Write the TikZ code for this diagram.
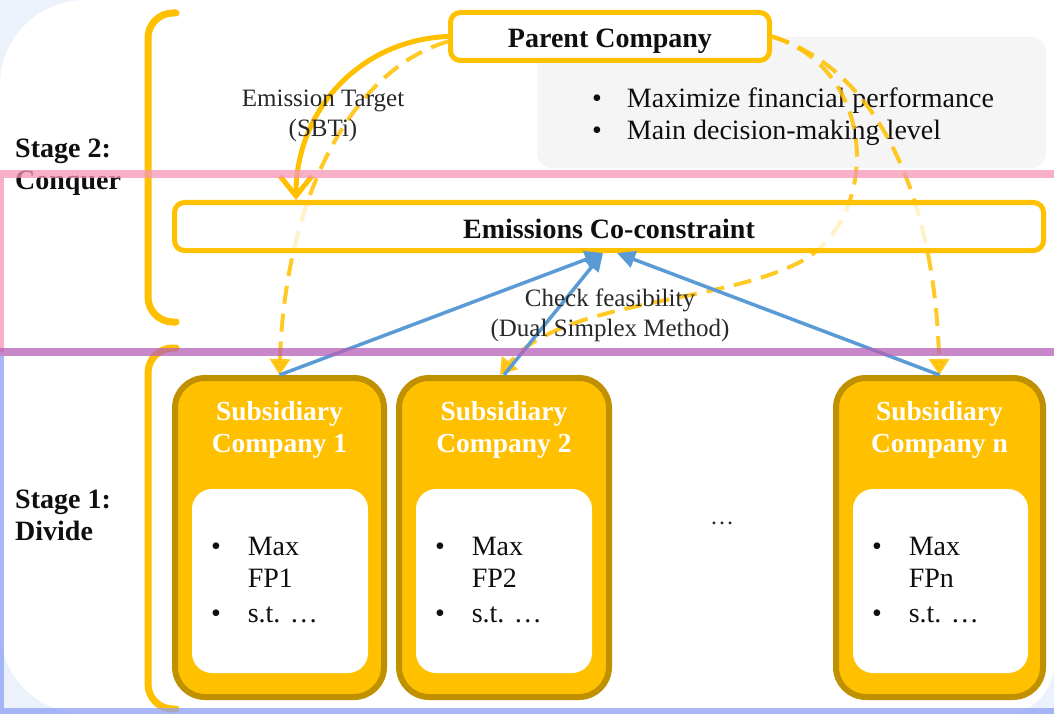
\documentclass[tikz,border=0pt]{standalone}
\usepackage{fontspec}
\setmainfont{Liberation Serif}
\usetikzlibrary{arrows.meta}
\definecolor{yel}{RGB}{255,192,0}
\definecolor{yeldark}{RGB}{191,144,0}
\definecolor{bl}{RGB}{91,155,213}
\definecolor{pinkb}{RGB}{246,150,182}
\definecolor{purpb}{RGB}{182,96,182}
\definecolor{blueb}{RGB}{139,160,246}
\definecolor{graybox}{RGB}{245,245,245}
\definecolor{bgtint}{RGB}{236,242,252}
\definecolor{txt}{RGB}{15,15,15}
\definecolor{lbl}{RGB}{40,40,40}
\begin{document}
\begin{tikzpicture}[x=1pt,y=-1pt,
  yelbox/.style={draw=yel, line width=5pt, rounded corners=10pt, fill=white, inner sep=0pt,
    text=txt, font=\fontsize{28}{32}\selectfont\bfseries, text height=23pt, text depth=0pt},
  subbox/.style={draw=yeldark, fill=yel, line width=6pt, rounded corners=30pt,
    minimum width=209pt, minimum height=319pt, inner sep=0pt},
  innerbox/.style={fill=white, rounded corners=20pt, minimum width=176pt, minimum height=184pt, inner sep=0pt},
  subtitle/.style={text=white, align=center, font=\fontsize{27.5}{32}\selectfont\bfseries, inner sep=0pt},
  bodytext/.style={font=\fontsize{28}{32}\selectfont, inner sep=0pt, anchor=west, text=txt},
  lab/.style={font=\fontsize{25}{30}\selectfont, align=center, text=lbl, inner sep=0pt},
  stagelab/.style={font=\fontsize{28}{32}\selectfont\bfseries, align=left, anchor=west, inner sep=0pt, text=txt},
  dasharrow/.style={draw=yel, line width=4pt, dash pattern=on 18pt off 10pt,
    -{Triangle[length=16pt,width=20pt]}, opacity=0.85},
  bluearrow/.style={draw=bl, line width=3.5pt, -{Triangle[length=18pt,width=17pt]}},
  bracket/.style={draw=yel, line width=7pt, rounded corners=25pt, line cap=round},
  band/.style={line width=8pt, opacity=0.75}
]
\useasboundingbox (0,0) rectangle (1054,714);
\clip (0,0) rectangle (1054,714);
% background
\fill[bgtint] (0,0) rectangle (1054,714);
\fill[white] (527,0) [rounded corners=85pt] -- (0,0) -- (0,714) -- (1054,714) [sharp corners] -- (1054,0) -- cycle;
\fill[white] (1054,400) [rounded corners=50pt] -- (1054,714) -- (700,714) [sharp corners] -- (700,400) -- cycle;
% gray box
\fill[graybox, rounded corners=15pt] (537,37) rectangle (1046,168);
% parent
\node[yelbox, minimum width=319pt, minimum height=48pt] (pc) at (610,36.5) {Parent Company};
\node[bodytext] (pb) at (592,117) {\begin{tabular}{@{}l@{\hspace{25pt}}l@{}}\textbullet & Maximize financial performance\\ \textbullet & Main decision-making level\end{tabular}};
% subsidiaries
\node[subbox] (s1) at (279.5,537.5) {};
\node[subbox, minimum width=210pt] (s2) at (504,537.5) {};
\node[subbox, minimum width=207pt] (sn) at (939.5,537.5) {};
\node[innerbox] (i1) at (280,581) {};
\node[innerbox] (i2) at (504,581) {};
\node[innerbox, minimum width=175pt] (in) at (940.5,581) {};
\node[subtitle] (t1) at (279.5,430) {Subsidiary\\Company 1};
\node[subtitle] (t2) at (504,430) {Subsidiary\\Company 2};
\node[subtitle] (tn) at (939.5,430) {Subsidiary\\Company n};
\node[bodytext] (b1) at ([xshift=19pt,yshift=-2pt]i1.west) {\begin{tabular}{@{}l@{\hspace{27pt}}l@{}}\textbullet & Max\\ & FP1\\[3pt] \textbullet & s.t. …\end{tabular}};
\node[bodytext] (b2) at ([xshift=19pt,yshift=-2pt]i2.west) {\begin{tabular}{@{}l@{\hspace{27pt}}l@{}}\textbullet & Max\\ & FP2\\[3pt] \textbullet & s.t. …\end{tabular}};
\node[bodytext] (bn) at ([xshift=19pt,yshift=-2pt]in.west) {\begin{tabular}{@{}l@{\hspace{27pt}}l@{}}\textbullet & Max\\ & FPn\\[3pt] \textbullet & s.t. …\end{tabular}};
\node[font=\fontsize{24}{28}\selectfont, text=lbl, inner sep=0pt] (dots) at (722,523) {…};
% dashed arrows
\draw[dasharrow] ([yshift=-5pt]pc.west) .. controls (350,70) and (285,200) .. (s1.north);
\draw[dasharrow] (pc.east) .. controls (880,70) and (935,200) .. (sn.north);
\draw[dasharrow] (pc.east) .. controls (880,70) and (880,220) .. (800,262) .. controls (720,304) and (560,300) .. ([xshift=-4pt]s2.north);
% emissions box
\node[yelbox, fill opacity=0.75, text opacity=1, minimum width=869pt, minimum height=48pt] (ec) at (609,226.5) {Emissions Co-constraint};
% solid arrow
\draw[draw=yel, line width=5pt, -{Straight Barb[length=20pt,width=32pt]}] (pc.west) .. controls (360,40) and (296,110) .. ([xshift=-313pt]ec.north);
% blue arrows
\draw[bluearrow] (s1.north) -- ([xshift=-6pt]ec.south);
\draw[bluearrow] (s2.north) -- ([xshift=-6pt]ec.south);
\draw[bluearrow] (sn.north) -- ([xshift=8pt]ec.south);
% labels
\node[lab] (et) at (323,116) {Emission Target\\(SBTi)};
\node[lab] (cf) at (610,315) {Check feasibility\\(Dual Simplex Method)};
\node[stagelab] (st2) at (15,167) {Stage 2:\\Conquer};
\node[stagelab] (st1) at (15,515) {Stage 1:\\Divide};
% brackets
\draw[bracket] (176,13) -- (148,13) -- (148,322) -- (176,322);
\draw[bracket] (176,348) -- (148,348) -- (148,709) -- (176,709);
% bands
\draw[band, draw=pinkb] (1060,174) -- (0,174) -- (0,352);
\draw[band, draw=purpb] (0,352) -- (1060,352);
\draw[band, draw=blueb] (0,356) -- (0,712) -- (1060,712);
\end{tikzpicture}
\end{document}
